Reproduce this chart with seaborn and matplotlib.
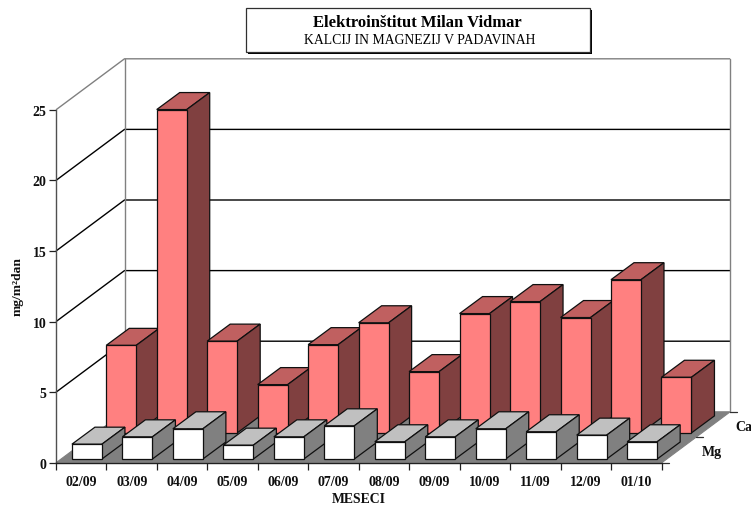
import numpy as np
import pandas as pd
import matplotlib
matplotlib.use("Agg")
import matplotlib.pyplot as plt
from matplotlib.patches import Rectangle
import seaborn as sns

months = ["02/09", "03/09", "04/09", "05/09", "06/09", "07/09",
          "08/09", "09/09", "10/09", "11/09", "12/09", "01/10"]
ca_values = [6.2, 22.9, 6.5, 3.42, 6.25, 7.8, 4.34, 8.45, 9.3, 8.17, 10.85, 3.94]
mg_values = [1.05, 1.57, 2.14, 0.98, 1.57, 2.35, 1.22, 1.57, 2.14, 1.93, 1.69, 1.22]
series_names = ["Mg", "Ca"]
y_ticks = [0, 5, 10, 15, 20, 25]

sns.set_theme(style="white")
plt.rcParams["font.family"] = ["Liberation Serif", "DejaVu Serif"]

W, H = 751, 506
fig = plt.figure(figsize=(W / 100, H / 100), dpi=100, facecolor="white")
X0, X1, Y0, Y25 = 56.0, 661.7, 463.8, 110.8
ax = fig.add_axes([X0 / W, 1 - Y0 / H, (X1 - X0) / W, (Y0 - Y25) / H])
ax.patch.set_alpha(0)
ux = (X1 - X0) / 12
uy = (Y0 - Y25) / 25

# oblique projection, in data units
DX, DY = 68.5 / ux, 51.0 / uy
bar_dx, bar_dy = 23.0 / ux, 17.0 / uy
BAR_W = 30.0 / ux
slots = {"Mg": (5.7 / ux, 3.8 / uy), "Ca": (40.0 / ux, 29.9 / uy)}
faces = {"Mg": ("#FFFFFF", "#C0C0C0", "#808080"),
         "Ca": ("#FF8080", "#C06060", "#804040")}
EDGE = "#101010"
GREY = "#808080"
n = len(months)

# floor
ax.fill([0, n, n + DX, DX], [0, 0, DY, DY], color=GREY, lw=0.8, zorder=1, clip_on=False)
# walls and gridlines
for v in y_ticks[1:]:
    col = GREY if v == y_ticks[-1] else "black"
    ax.plot([0, DX, n + DX], [v, v + DY, v + DY], color=col, lw=1.0,
            zorder=1.5, clip_on=False, solid_capstyle="butt")
ax.plot([DX, DX], [DY, y_ticks[-1] + DY], color=GREY, lw=1.0, zorder=1.6, clip_on=False)
ax.plot([n + DX, n + DX], [DY, y_ticks[-1] + DY], color=GREY, lw=1.0, zorder=1.6, clip_on=False)

# depth axis ticks
for frac in (0, 0.5, 1):
    ax.plot([n + DX * frac, n + DX * frac + 7 / ux], [DY * frac, DY * frac],
            color="#303030", lw=0.9, zorder=1.7, clip_on=False)


def draw_series(name, values, z0):
    ox, oy = slots[name]
    front, top, side = faces[name]
    df = pd.DataFrame({"x": np.arange(n) + 0.5 + ox, "value": values})
    before = len(ax.patches)
    sns.barplot(data=df, x="x", y="value", native_scale=True, width=BAR_W, bottom=oy,
                color=front, saturation=1, edgecolor=EDGE, linewidth=0.9,
                errorbar=None, legend=False, ax=ax)
    bars = sorted(ax.patches[before:], key=lambda p: p.get_x())
    for i, p in enumerate(bars):
        x, y, w, h = p.get_x(), p.get_y(), p.get_width(), p.get_height()
        p.set_zorder(z0 + i + 0.5)
        p.set_clip_on(False)
        ax.fill([x, x + w, x + w + bar_dx, x + bar_dx],
                [y + h, y + h, y + h + bar_dy, y + h + bar_dy],
                facecolor=top, edgecolor=EDGE, lw=0.9, zorder=z0 + i, clip_on=False)
        ax.fill([x + w, x + w + bar_dx, x + w + bar_dx, x + w],
                [y, y + bar_dy, y + h + bar_dy, y + h],
                facecolor=side, edgecolor=EDGE, lw=0.9, zorder=z0 + i, clip_on=False)


draw_series("Ca", ca_values, 10)
draw_series("Mg", mg_values, 40)

# real axes
ax.set_xlim(0, n)
ax.set_ylim(0, y_ticks[-1])
ax.set_xticks(np.arange(n + 1))
ax.set_xticklabels([])
ax.set_xticks(np.arange(n) + 0.5, minor=True)
ax.set_xticklabels(months, minor=True, fontsize=10, fontweight="bold", color="#101010")
ax.set_yticks(y_ticks)
ax.set_yticklabels([str(v) for v in y_ticks], fontsize=10, fontweight="bold", color="#101010")
ax.tick_params(axis="both", which="major", length=5, width=0.9, color="#202020", left=True, bottom=True, pad=2)
ax.tick_params(axis="x", which="minor", length=0, pad=8.5)
for s in ("top", "right"):
    ax.spines[s].set_visible(False)
ax.spines["left"].set_color("#505050")
ax.spines["bottom"].set_color("#202020")
for s in ("left", "bottom"):
    ax.spines[s].set_linewidth(1.0)
    ax.spines[s].set_zorder(2)

ax.set_xlabel("MESECI", fontsize=9.9, fontweight="bold", color="#101010")
ax.xaxis.set_label_coords((358.5 - X0) / (X1 - X0), -(500 - Y0) / (Y0 - Y25), transform=ax.transAxes)
ax.xaxis.label.set_verticalalignment("center")
ax.set_ylabel("mg/m²dan", fontsize=9.7, fontweight="bold", color="#101010")
ax.yaxis.set_label_coords((18 - X0) / (X1 - X0), (Y0 - 286) / (Y0 - Y25), transform=ax.transAxes)
ax.yaxis.label.set_verticalalignment("center")

# series labels on depth axis
ax.text(n + (702 - X1) / ux, (Y0 - 452.5) / uy, series_names[0], fontsize=10, fontweight="bold",
        ha="left", va="center", color="#101010", clip_on=False)
ax.text(n + (735 - X1) / ux, (Y0 - 428) / uy, series_names[1], fontsize=10, fontweight="bold",
        ha="left", va="center", color="#101010", clip_on=False)

# title box with shadow
fig.add_artist(Rectangle((248 / W, 1 - 55 / H), 344 / W, 44 / H, transform=fig.transFigure,
                         facecolor="black", edgecolor="none", zorder=5))
fig.add_artist(Rectangle((246 / W, 1 - 53 / H), 344 / W, 44 / H, transform=fig.transFigure,
                         facecolor="white", edgecolor="#303030", lw=0.9, zorder=6))
fig.text(417.5 / W, 1 - 23 / H, "Elektroinštitut Milan Vidmar", fontsize=12, fontweight="bold",
         ha="center", va="center", color="black", zorder=7)
fig.text(420 / W, 1 - 40 / H, "KALCIJ IN MAGNEZIJ V PADAVINAH", fontsize=9.9,
         ha="center", va="center", color="black", zorder=7)

fig.savefig("out.png", dpi=100, facecolor="white")
